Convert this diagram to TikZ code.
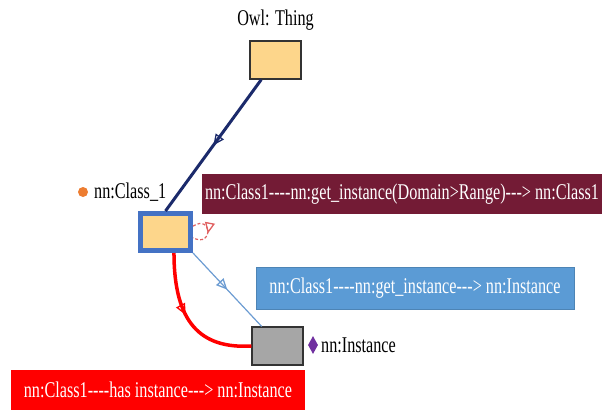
\documentclass[tikz,border=0pt]{standalone}
\usepackage{fontspec}
\setmainfont[FakeStretch=0.72, Ligatures=TeXOff]{Liberation Serif}
\usetikzlibrary{arrows.meta,decorations.markings,shapes.geometric}
\definecolor{boxorange}{HTML}{FDD68B}
\definecolor{classblue}{HTML}{4472C4}
\definecolor{navy}{HTML}{1B2A6B}
\definecolor{maroon}{HTML}{731B35}
\definecolor{lblblue}{HTML}{5B9BD5}
\definecolor{linkblue}{HTML}{6C9CD2}
\definecolor{dotorange}{HTML}{ED7D31}
\definecolor{purp}{HTML}{7030A0}
\definecolor{grayfill}{HTML}{A6A6A6}
\definecolor{looppink}{HTML}{E06060}
\tikzset{
  txt/.style={font=\fontsize{22.5}{26}\selectfont, inner sep=0pt},
  entity/.style={draw=black!80, line width=1.2pt, minimum width=51pt, minimum height=38pt, inner sep=0pt},
  tag/.style={txt, text=white, inner sep=0pt},
  midarrow/.style={postaction={decorate, decoration={markings,
      mark=at position #1 with {\arrow{Triangle[open, length=11pt, width=10pt, line width=1.3pt]}}}}}
}
\begin{document}
\begin{tikzpicture}[x=1pt,y=-1pt]
\useasboundingbox (0,0) rectangle (603,410);
% nodes
\node[txt] (owllbl) at (275.5,20) {Owl: Thing};
\node[entity, fill=boxorange] (owl) at (275.5,60) {};
\node[draw=classblue, line width=5pt, fill=boxorange, minimum width=50pt, minimum height=37pt, inner sep=0pt] (cls) at (165.5,232) {};
\node[entity, fill=grayfill] (inst) at (277.5,346) {};
\node[circle, fill=dotorange, minimum size=10pt, inner sep=0pt] (dot) at (83,192) {};
\node[txt, anchor=west] (clslbl) at (94,192) {nn:Class\_1};
\node[diamond, fill=purp, minimum width=10pt, minimum height=18pt, inner sep=0pt, aspect=0.6] (dia) at (313,345) {};
\node[txt, anchor=west] (instlbl) at (321,345) {nn:Instance};
\node[fill=maroon, minimum width=400pt, minimum height=40pt, inner sep=0pt] (tagA) at (402,194) {};
\node[tag] (tagAt) at (tagA.center) {nn:Class1----nn:get\_instance(Domain>Range)---> nn:Class1};
\node[fill=lblblue, draw=lblblue!85!black, line width=0.8pt, minimum width=318pt, minimum height=42pt, inner sep=0pt] (tagB) at (415,288) {};
\node[tag] (tagBt) at (tagB.center) {nn:Class1----nn:get\_instance---> nn:Instance};
\node[fill=red, minimum width=294pt, minimum height=40pt, inner sep=0pt] (tagC) at (158,390) {};
\node[tag] (tagCt) at (tagC.center) {nn:Class1----has instance---> nn:Instance};
% connectors
\draw[navy, line width=3pt, midarrow=0.5] (owl.234) -- (cls.north);
\draw[linkblue, line width=1.2pt, midarrow=0.5] (cls.south east) -- (inst.129);
\draw[red, line width=3.5pt, midarrow=0.45] (cls.-68) .. controls (174,322) and (200,349) .. (inst.west);
\draw[looppink, line width=1.2pt, densely dashed, midarrow=0.55] (cls.12) .. controls (212,214) and (214,248) .. (cls.-12);
\end{tikzpicture}
\end{document}
